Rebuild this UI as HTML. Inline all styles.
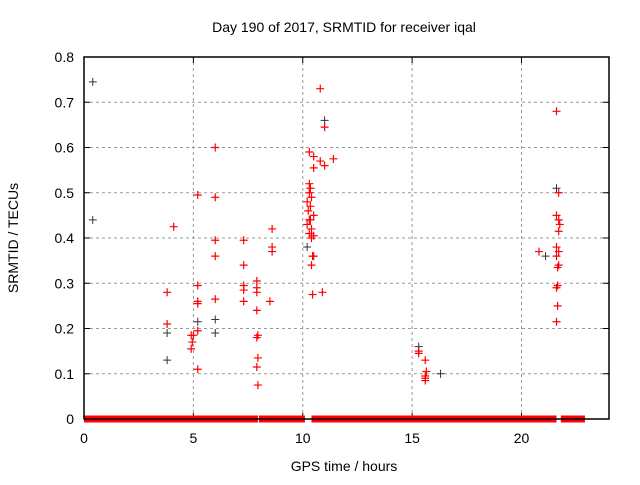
<!DOCTYPE html>
<html><head><meta charset="utf-8"><style>
body{margin:0;background:#fff;font-family:"Liberation Sans",sans-serif}
svg text{font-family:"Liberation Sans",sans-serif;font-size:14px;fill:#000}
</style></head><body>
<svg id="chart" width="640" height="480" xmlns="http://www.w3.org/2000/svg">
<text x="344" y="32" text-anchor="middle">Day 190 of 2017, SRMTID for receiver iqal</text>
<text x="344" y="471" text-anchor="middle">GPS time / hours</text>
<text transform="translate(18,238) rotate(-90)" text-anchor="middle">SRMTID / TECUs</text>
<g id="grid"></g><g id="marks"></g>
<rect x="84" y="57" width="525" height="362" fill="none" stroke="#000" stroke-width="1.5"/>
</svg>
<script>
const xTicks=[0,5,10,15,20];
const yTicks=[0,0.1,0.2,0.3,0.4,0.5,0.6,0.7,0.8];
const yTickLabels=["0","0.1","0.2","0.3","0.4","0.5","0.6","0.7","0.8"];
const redX=[3.8,3.8,4.1,5.2,5.2,5.2,5.2,5.2,5.2,4.9,4.95,4.9,5.0,6.0,6.0,6.0,6.0,6.0,7.3,7.3,7.3,7.3,7.3,7.9,7.9,7.9,7.9,7.95,7.9,7.95,7.9,7.95,8.5,8.6,8.6,8.6,
10.8,11.0,10.3,10.5,10.5,11.0,10.8,11.4,10.3,10.35,10.3,10.4,10.2,10.35,10.25,10.5,10.3,10.2,10.4,10.3,10.5,10.4,10.45,10.5,10.4,10.35,10.45,10.9,
15.3,15.6,15.65,15.6,15.6,15.6,15.3,
21.6,21.6,21.7,21.7,21.75,21.7,21.6,21.7,21.6,21.7,21.65,20.8,21.65,21.6,21.65,21.6];
const redY=[0.28,0.21,0.425,0.495,0.295,0.26,0.255,0.195,0.11,0.185,0.17,0.155,0.185,0.6,0.49,0.395,0.265,0.36,0.395,0.34,0.295,0.285,0.26,0.305,0.29,0.28,0.24,0.185,0.18,0.135,0.115,0.075,0.26,0.42,0.38,0.37,
0.73,0.645,0.59,0.58,0.555,0.56,0.57,0.575,0.52,0.51,0.5,0.49,0.48,0.47,0.46,0.45,0.44,0.43,0.42,0.41,0.405,0.40,0.36,0.36,0.34,0.44,0.275,0.28,
0.15,0.13,0.105,0.095,0.09,0.085,0.145,
0.68,0.45,0.44,0.5,0.43,0.415,0.38,0.37,0.36,0.34,0.335,0.37,0.295,0.29,0.25,0.215];
const blackX=[0.4,0.4,3.8,3.8,5.2,6.0,6.0,10.2,11.0,15.3,16.3,21.6,21.1];
const blackY=[0.745,0.44,0.19,0.13,0.215,0.22,0.19,0.38,0.66,0.16,0.1,0.51,0.36];
const zeroStart=[0,8.0,10.4,21.8];
const zeroEnd=[7.95,10.1,21.6,22.9];
const NS="http://www.w3.org/2000/svg";
const X0=84,X1=609,Y0=419,Y1=57,XMAX=24,YMAX=0.8;
function sx(v){return X0+v/XMAX*(X1-X0);}
function sy(v){return Y0-v/YMAX*(Y0-Y1);}
function mk(t,a,p){const e=document.createElementNS(NS,t);for(const k in a)e.setAttribute(k,a[k]);p.appendChild(e);return e;}
const grid=document.getElementById('grid'),marks=document.getElementById('marks');
yTicks.forEach((v,i)=>{const y=sy(v);
 if(v>0&&v<0.8){const g=mk('line',{x1:X0,x2:X1,y1:y,y2:y,stroke:'#999','stroke-dasharray':'3,3'},grid);
 
 }
 const t1=mk('line',{x1:X0,x2:X0+6,y1:y,y2:y,stroke:'#000'},grid);
 
 
 const t2=mk('line',{x1:X1-6,x2:X1,y1:y,y2:y,stroke:'#000'},grid);
 
 
 const l=mk('text',{x:X0-10,y:y+5,'text-anchor':'end'},grid);l.textContent=yTickLabels[i];
 
 });
xTicks.forEach(v=>{const x=sx(v);
 if(v>0){const g=mk('line',{x1:x,x2:x,y1:Y0,y2:Y1,stroke:'#999','stroke-dasharray':'3,3'},grid);
 
 }
 const t=mk('line',{x1:x,x2:x,y1:Y0,y2:Y0-6,stroke:'#000'},grid);
 
 
 const t2=mk('line',{x1:x,x2:x,y1:Y1,y2:Y1+6,stroke:'#000'},grid);
 
 
 const l=mk('text',{x:x,y:443,'text-anchor':'middle'},grid);l.textContent=v;
 
 });
zeroStart.forEach((s,i)=>{const r=mk('rect',{x:sx(s),y:sy(0)-3.5,width:sx(zeroEnd[i])-sx(s),height:7,fill:'#f00'},marks);
 
 });
function plus(x,y,c,w,name){const p=mk('path',{d:`M${sx(x)-4},${sy(y)}h8M${sx(x)},${sy(y)-4}v8`,stroke:c,'stroke-width':w,fill:'none'},marks);
 
 }
blackX.forEach((x,i)=>plus(x,blackY[i],'#333',1,'black-point'));
redX.forEach((x,i)=>plus(x,redY[i],'#f00',1.2,'red-point'));
</script>
</body></html>
